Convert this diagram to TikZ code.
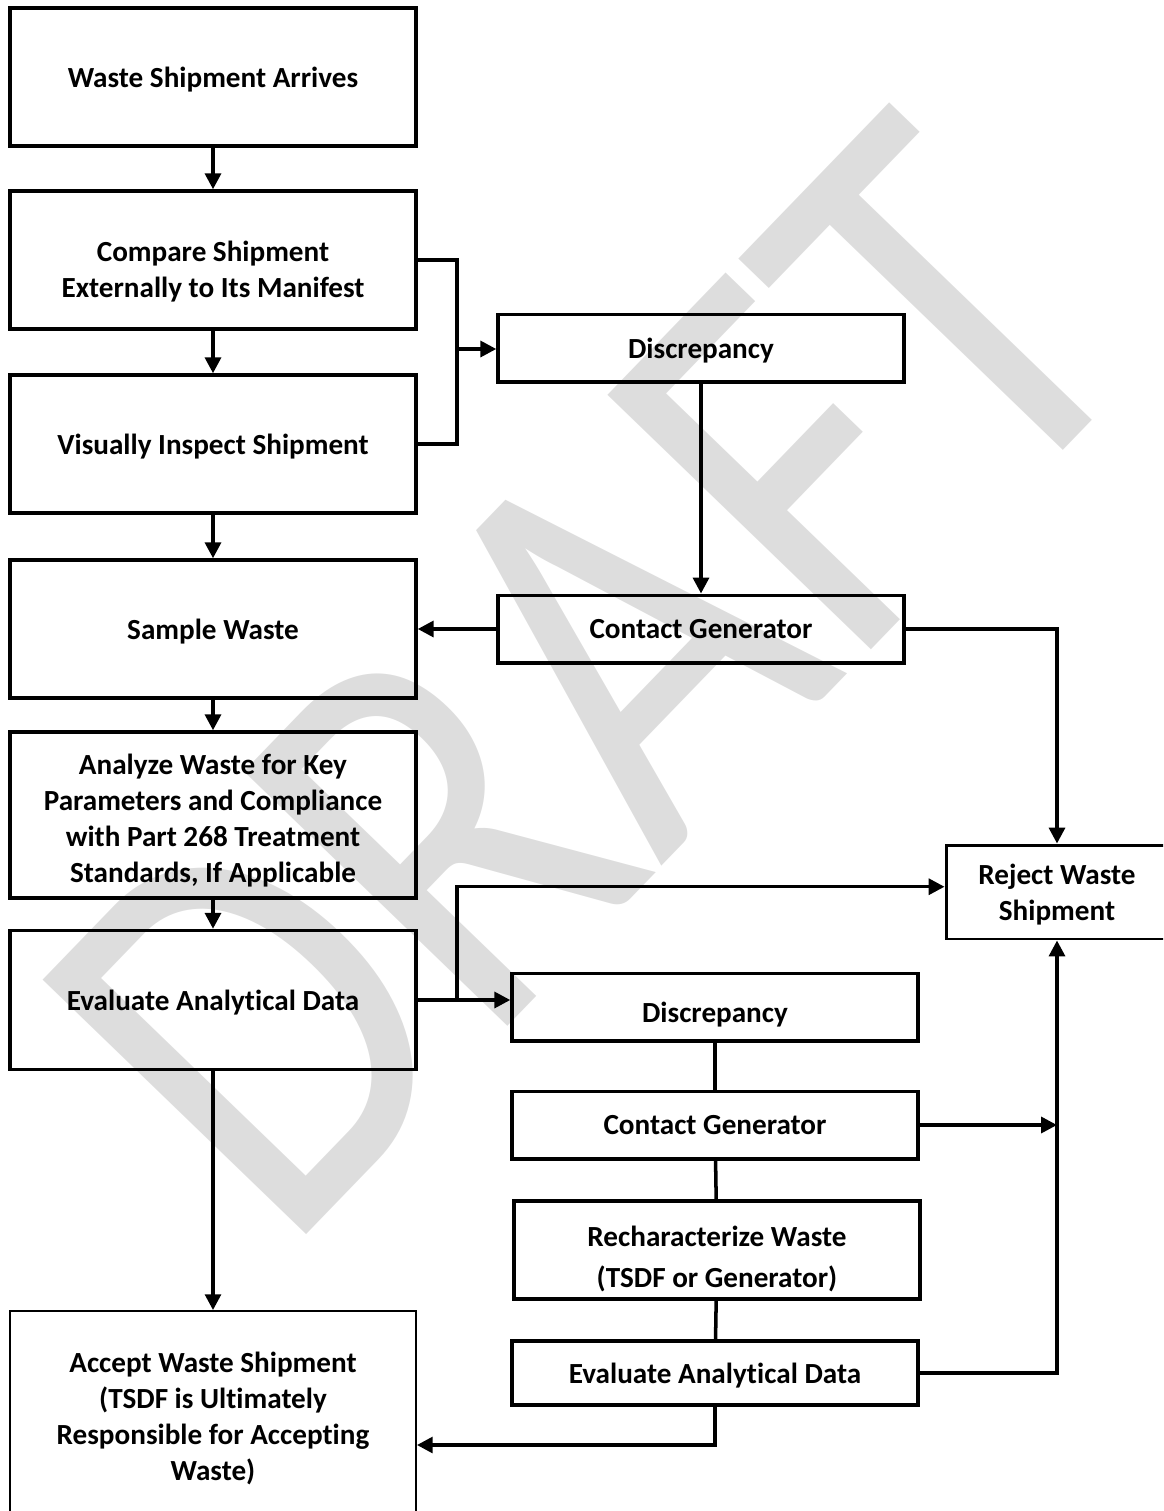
\documentclass[tikz,border=0pt]{standalone}
\usepackage{fontspec}
\setmainfont[Ligatures={NoCommon,NoContextual}]{Carlito}
\usetikzlibrary{arrows.meta}
\definecolor{draftgray}{RGB}{221,221,221}

\begin{document}
\begin{tikzpicture}[x=0.02cm,y=-0.02cm,
    box/.style={draw,line width=2pt,inner sep=0pt,align=center,text depth=-0.6pt,
        font=\bfseries\fontsize{16.6}{20.5}\selectfont},
    bigbox/.style={box,minimum width=8.12cm},
    sidebox/.style={box,minimum width=8.12cm,minimum height=1.35cm},
    arr/.style={line width=2pt,-{Triangle[length=9pt,width=9pt]}},
    link/.style={line width=2pt}]
    \useasboundingbox (0,0) rectangle (1163,1511);
    \clip (0,0) rectangle (1163,1511);

    % Watermark
    \node[text=draftgray,inner sep=0pt,rotate=46,xscale=0.82,
        font=\fontsize{325}{325}\selectfont] (draft) at (589,678) {DRAFT};

    % Left column
    \node[bigbox,minimum height=2.76cm] (arrives) at (213,77) {Waste Shipment Arrives};
    \node[bigbox,minimum height=2.76cm] (compare) at (213,260) {\rule{0pt}{22pt}Compare Shipment\\Externally to Its Manifest};
    \node[bigbox,minimum height=2.76cm] (inspect) at (213,444) {Visually Inspect Shipment};
    \node[bigbox,minimum height=2.76cm] (sample) at (213,629) {Sample Waste};
    \node[bigbox,minimum height=3.32cm] (analyze) at (213,815) {\rule{0pt}{15pt}Analyze Waste for Key\\Parameters and Compliance\\with Part 268 Treatment\\Standards, If Applicable};
    \node[bigbox,minimum height=2.78cm] (evaluate) at (213,1000) {Evaluate Analytical Data};
    \node[bigbox,minimum height=4.2cm,line width=1.1pt] (accept) at (213,1416) {Accept Waste Shipment\\(TSDF is Ultimately\\Responsible for Accepting\\Waste)};

    % Right column
    \node[sidebox] (disc1) at (701,348) {Discrepancy};
    \node[sidebox] (contact1) at (701,629) {Contact Generator};
    \node[box,minimum width=4.44cm,minimum height=1.88cm,line width=1.7pt] (reject) at (1057,892) {Reject Waste\\Shipment};
    \node[sidebox] (disc2) at (715,1007) {\rule{0pt}{18pt}Discrepancy};
    \node[sidebox] (contact2) at (715,1125) {Contact Generator};
    \node[box,minimum width=8.12cm,minimum height=1.96cm] (recharac) at (717,1250) {\rule{0pt}{19pt}Recharacterize Waste\\[3pt](TSDF or Generator)};
    \node[sidebox,minimum height=1.28cm] (evaluate2) at (715,1373) {Evaluate Analytical Data};

    \coordinate (jA) at (457,349);
    \coordinate (jB) at (457,1000);
    \coordinate (jC) at (715,1445);

    % Main flow
    \draw[arr] (arrives) -- (compare);
    \draw[arr] (compare) -- (inspect);
    \draw[arr] (inspect) -- (sample);
    \draw[arr] (sample) -- (analyze);
    \draw[arr] (analyze) -- (evaluate);
    \draw[arr] (evaluate) -- (accept);

    % First discrepancy loop
    \draw[link] (compare.east) -| (jA) |- (inspect.east);
    \draw[arr] (jA) -- (jA -| disc1.west);
    \draw[arr] (disc1) -- (contact1);
    \draw[arr] (contact1.west) -- (sample.east);
    \draw[arr] (contact1.east) -| (reject.north);

    % Second discrepancy loop
    \draw[arr] (evaluate.east) -- (evaluate.east -| disc2.west);
    \draw[arr] (jB) |- ([yshift=3pt]reject.west);
    \draw[link] (disc2) -- (contact2);
    \draw[link] (contact2) -- (recharac);
    \draw[link] (recharac) -- (evaluate2);
    \draw[arr] (contact2.east) -- (contact2.east -| reject.south);
    \draw[arr] (evaluate2.east) -| (reject.south);
    \draw[arr] (evaluate2.south) -- (jC) -- (jC -| accept.east);
\end{tikzpicture}
\end{document}
